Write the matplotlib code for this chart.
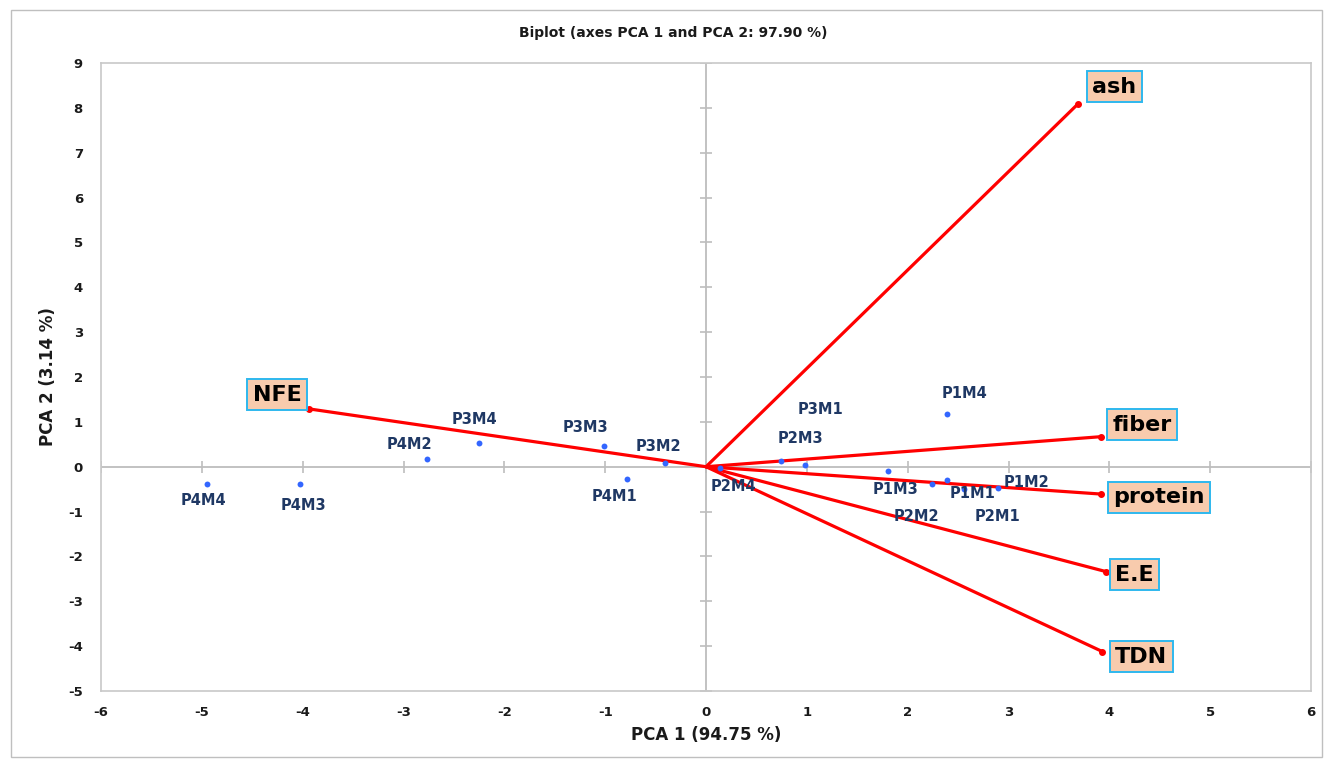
import matplotlib.pyplot as plt
from matplotlib.patches import Rectangle

# observations (scores)
obs_names = ['P1M1', 'P1M2', 'P1M3', 'P1M4', 'P2M1', 'P2M2', 'P2M3', 'P2M4',
             'P3M1', 'P3M2', 'P3M3', 'P3M4', 'P4M1', 'P4M2', 'P4M3', 'P4M4']
obs_pc1 = [2.39, 2.90, 1.80, 2.39, 2.56, 2.24, 0.74, 0.14,
           0.98, -0.41, -1.01, -2.25, -0.78, -2.77, -4.03, -4.95]
obs_pc2 = [-0.30, -0.48, -0.09, 1.17, -0.50, -0.39, 0.12, -0.02,
           0.03, 0.09, 0.47, 0.52, -0.28, 0.17, -0.39, -0.39]

# variables (loadings)
var_names = ['ash', 'fiber', 'protein', 'E.E', 'TDN', 'NFE']
var_pc1 = [3.69, 3.92, 3.92, 3.97, 3.93, -3.94]
var_pc2 = [8.09, 0.67, -0.61, -2.34, -4.12, 1.29]

x_ticks = list(range(-6, 7))
y_ticks = list(range(-5, 10))

# label offsets in pixels (dx, dy)
obs_offsets = {
    'P1M1': (26, -13), 'P1M2': (28, 6), 'P1M3': (8, -19), 'P1M4': (18, 21),
    'P2M1': (33, -27), 'P2M2': (-15, -32), 'P2M3': (20, 23), 'P2M4': (13, -19),
    'P3M1': (16, 56), 'P3M2': (-6, 16), 'P3M3': (-19, 18), 'P3M4': (-5, 24),
    'P4M1': (-13, -17), 'P4M2': (-17, 15), 'P4M3': (4, -21), 'P4M4': (-3, -16),
}
var_offsets = {
    'ash': (14, 17), 'fiber': (11, 12), 'protein': (12, -3),
    'E.E': (9, -3), 'TDN': (13, -5), 'NFE': (-7, 14),
}

plt.rcParams['font.family'] = ['DejaVu Sans']
plt.rcParams['axes.unicode_minus'] = False

fig = plt.figure(figsize=(13.27, 7.61), dpi=100)
ax = fig.add_axes([101 / 1327, 1 - 691 / 761, 1210 / 1327, 628 / 761])

# outer chart border
fig.patches.append(Rectangle((11 / 1327, 4 / 761), 1311 / 1327, 747 / 761,
                             transform=fig.transFigure, fill=False,
                             edgecolor='#BFBFBF', linewidth=1))

ax.set_xlim(-6, 6)
ax.set_ylim(-5, 9)
ax.set_xticks(x_ticks)
ax.set_yticks(y_ticks)
ax.tick_params(length=0, labelsize=9.5, labelcolor='#1a1a1a')
ax.tick_params(axis='x', pad=11)
ax.tick_params(axis='y', pad=13)
for lab in ax.get_xticklabels() + ax.get_yticklabels():
    lab.set_fontweight('bold')
for sp in ax.spines.values():
    sp.set_color('#C8C8C8')
    sp.set_linewidth(1.2)

# zero axes with small tick marks
ax.axhline(0, color='#BDBDBD', lw=1.3, zorder=1)
ax.axvline(0, color='#BDBDBD', lw=1.3, zorder=1)
ax.plot(x_ticks, [0] * len(x_ticks), ls='none', marker='|', ms=8,
        mew=1.2, color='#BDBDBD', zorder=1)
ax.plot([0] * len(y_ticks), y_ticks, ls='none', marker='_', ms=8,
        mew=1.2, color='#BDBDBD', zorder=1)

# variable vectors
for name, vx, vy in zip(var_names, var_pc1, var_pc2):
    ax.plot([0, vx], [0, vy], color='#FF0000', lw=2.3, zorder=3,
            solid_capstyle='round')
    ax.plot(vx, vy, 'o', color='#FF0000', ms=4, zorder=3)
    dx, dy = var_offsets[name]
    ax.annotate(name, (vx, vy), xytext=(dx * 0.72, dy * 0.72),
                textcoords='offset points', ha='left' if vx > 0 else 'right',
                va='center', fontsize=16, fontweight='bold', color='black',
                zorder=5,
                bbox=dict(boxstyle='square,pad=0.25', fc='#F8CBAD',
                          ec='#2EB8EE', lw=1.4))

# observations
ax.scatter(obs_pc1, obs_pc2, s=18, color='#3366FF', zorder=4, linewidths=0)
for name, px, py in zip(obs_names, obs_pc1, obs_pc2):
    dx, dy = obs_offsets[name]
    ax.annotate(name, (px, py), xytext=(dx * 0.72, dy * 0.72),
                textcoords='offset points', ha='center', va='center',
                fontsize=10.5, fontweight='bold', color='#1F3864', zorder=6)

ax.set_xlabel('PCA 1 (94.75 %)', fontsize=12, fontweight='bold',
              color='#1a1a1a', labelpad=5)
ax.set_ylabel('PCA 2 (3.14 %)', fontsize=12, fontweight='bold',
              color='#1a1a1a', labelpad=8)
fig.text(673 / 1327, 1 - 33 / 761, 'Biplot (axes PCA 1 and PCA 2: 97.90 %)',
         ha='center', va='center', fontsize=10, fontweight='bold',
         color='#1a1a1a')

fig.savefig('out.png', dpi=100)
